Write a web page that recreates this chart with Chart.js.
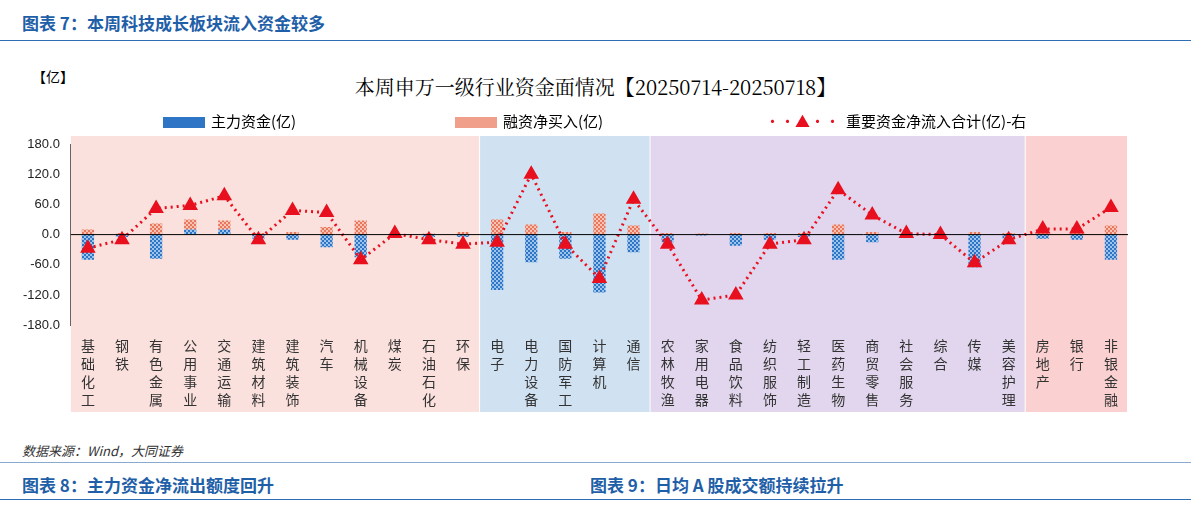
<!DOCTYPE html>
<html><head><meta charset="utf-8">
<script src="https://cdn.jsdelivr.net/npm/chart.js@4"></script>
<style>
body{margin:0;width:1191px;height:508px;background:#fff;font-family:"Noto Sans CJK SC",sans-serif;position:relative;overflow:hidden}
.h{position:absolute;color:#1f5fa8;font-weight:bold;font-size:17px}
.ln{position:absolute;left:0;width:1191px;height:1px;background:#2f6db5}
#wrap{position:absolute;left:20px;top:60px;width:1150px;height:352px}
.lg{position:absolute;top:110px;font-size:15px;font-family:"Noto Sans CJK SC";color:#000;z-index:2}
.sw{display:inline-block;width:42px;height:11px;vertical-align:middle;margin-right:6px}
</style></head><body>
<div class="h" style="left:22px;top:10px">图表 7：本周科技成长板块流入资金较多</div>
<div class="ln" style="top:40px"></div>
<div style="position:absolute;left:32px;top:66px;font-size:14px">【亿】</div>
<div style="position:absolute;left:0;width:1191px;top:72px;text-align:center;font-family:'Noto Serif CJK SC','Noto Sans CJK SC';font-size:20px">本周申万一级行业资金面情况【20250714-20250718】</div>
<div class="lg" style="left:163px"><span class="sw" style="background:#2e75c6"></span>主力资金(亿)</div>
<div class="lg" style="left:455px"><span class="sw" style="background:#f0a08a"></span>融资净买入(亿)</div>
<div class="lg" style="left:765px"><span style="color:#e8101e;font-size:15px;margin-right:6px">••▲••</span>重要资金净流入合计(亿)-右</div>
<div id="wrap"><canvas id="c"></canvas></div>
<div style="position:absolute;left:22px;top:441px;font-size:13px;font-style:italic;color:#333">数据来源：Wind，大同证券</div>
<div class="ln" style="top:462px;background:#8aa9cf"></div>
<div class="h" style="left:22px;top:472px">图表 8：主力资金净流出额度回升</div>
<div class="h" style="left:590px;top:472px">图表 9：日均 A 股成交额持续拉升</div>
<div class="ln" style="top:499px"></div>
<script>
const categories = ['基础化工','钢铁','有色金属','公用事业','交通运输','建筑材料','建筑装饰','汽车','机械设备','煤炭','石油石化','环保','电子','电力设备','国防军工','计算机','通信','农林牧渔','家用电器','食品饮料','纺织服饰','轻工制造','医药生物','商贸零售','社会服务','综合','传媒','美容护理','房地产','银行','非银金融'];
const mainFunds = [-50,-5,-48,10,10,-8,-10,-25,-45,0,-5,-5,-110,-55,-48,-115,-35,-15,-2,-22,-10,-5,-50,-15,-3,0,-65,-8,-8,-10,-50];
const margin = [10,3,22,20,18,3,5,15,28,2,2,5,30,20,5,42,18,3,2,3,3,3,20,5,3,1,5,3,3,3,18];
const netTotal = [-27,-10,52,58,77,-10,48,44,-50,2,-10,-19,-15,120,-19,-87,70,-19,-130,-120,-19,-10,89,39,2,0,-56,-10,11,11,54];
const yTicks = [-180,-120,-60,0,60,120,180];
const groups = [[0,11,'rgba(250,215,210,0.75)'],[12,16,'rgba(200,220,238,0.85)'],[17,27,'rgba(222,210,235,0.9)'],[28,30,'rgba(250,200,200,0.85)']];

function pat(bg, dot){
  const p=document.createElement('canvas');p.width=4;p.height=4;
  const g=p.getContext('2d');g.fillStyle=bg;g.fillRect(0,0,4,4);g.fillStyle=dot;g.fillRect(0,0,2,2);g.fillRect(2,2,2,2);
  return g.createPattern(p,'repeat');
}
const bgPlugin={id:'bg',beforeDraw(ch){
  const x=ch.scales.x,a=ch.chartArea,c=ch.ctx,w=x.getPixelForValue(1)-x.getPixelForValue(0);
  groups.forEach(g=>{c.fillStyle=g[2];const l=x.getPixelForValue(g[0])-w/2,r=x.getPixelForValue(g[1])+w/2;
    c.fillRect(l,a.top-8,r-l,ch.height-a.top+8);
    c.fillStyle='#fff';c.fillRect(r-1,a.top-8,2,ch.height);});
},afterDatasetsDraw(ch){
  const y=ch.scales.y.getPixelForValue(0),a=ch.chartArea,c=ch.ctx;
  c.strokeStyle='#000';c.lineWidth=1;c.beginPath();c.moveTo(a.left,y);c.lineTo(a.right,y);c.stroke();
}};
new Chart(document.getElementById('c'),{
  data:{labels:categories.map(s=>s.split('')),datasets:[
    {type:'line',data:netTotal,borderColor:'#e8101e',borderDash:[2,4],borderWidth:3,pointStyle:'triangle',pointRadius:6,pointBackgroundColor:'#e8101e',pointBorderColor:'#e8101e',order:0},
    {type:'bar',data:mainFunds,backgroundColor:pat('#2e75c6','#9cc3ea'),stack:'s',barPercentage:0.45,order:1},
    {type:'bar',data:margin,backgroundColor:pat('#e8775e','#f6c2b3'),stack:'s',barPercentage:0.45,order:1}
  ]},
  options:{responsive:true,maintainAspectRatio:false,animation:false,
    layout:{padding:{top:84,right:42}},
    plugins:{legend:{display:false},tooltip:{enabled:false}},
    scales:{
      x:{stacked:true,grid:{display:false},border:{display:false},ticks:{autoSkip:false,maxRotation:0,color:'#333',font:{size:14,family:'Noto Sans CJK SC',lineHeight:1.3}}},
      y:{stacked:true,min:-180,max:180,afterBuildTicks:s=>{s.ticks=yTicks.map(v=>({value:v}))},grid:{display:false},border:{color:'#666'},
        ticks:{color:'#222',font:{size:13},callback:v=>v.toFixed(1)}}
    }},
  plugins:[bgPlugin]
});
</script></body></html>
